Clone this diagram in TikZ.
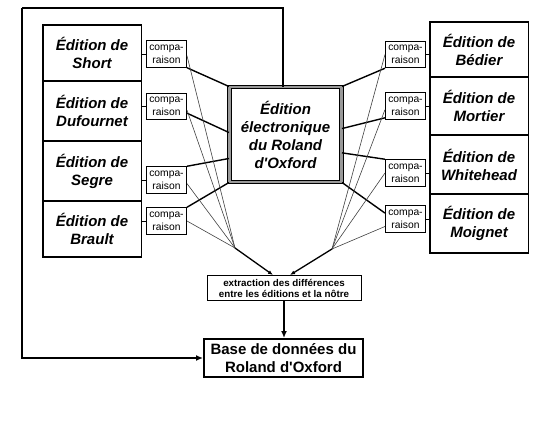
\documentclass[tikz,border=0pt]{standalone}
\usepackage{fontspec}
\setmainfont{Liberation Sans}
\usetikzlibrary{arrows.meta}
\tikzset{
  edbox/.style={draw,line width=1.5pt,minimum width=98.5pt,inner sep=0pt,align=center,
    font=\fontsize{15}{18}\selectfont\bfseries\itshape},
  cmp/.style={draw,line width=1pt,minimum width=40pt,minimum height=26.5pt,inner sep=0pt,align=center,
    font=\fontsize{10.3}{12.8}\selectfont},
  thk/.style={line width=1.4pt},
  thn/.style={line width=0.6pt,black!75},
  arr/.style={line width=1.5pt,-{Latex[length=7pt,width=6pt]}},
}
\begin{document}
\begin{tikzpicture}[x=1pt,y=-1pt]
\useasboundingbox (0,0) rectangle (550,423);
% left editions
\node[edbox,minimum height=56pt] (e1) at (92,53) {Édition de\\Short};
\node[edbox,minimum height=60pt] (e2) at (92,111) {Édition de\\Dufournet};
\node[edbox,minimum height=60pt] (e3) at (92,171) {Édition de\\Segre};
\node[edbox,minimum height=56pt] (e4) at (92,229) {Édition de\\Brault};
% right editions
\node[edbox,minimum height=55pt] (f1) at (479,49.5) {Édition de\\Bédier};
\node[edbox,minimum height=58pt] (f2) at (479,106) {Édition de\\Mortier};
\node[edbox,minimum height=59pt] (f3) at (479,164.5) {Édition de\\Whitehead};
\node[edbox,minimum height=59pt] (f4) at (479,223.5) {Édition de\\Moignet};
% comparison boxes
\node[cmp] (c1) at (166.5,54) {compa-\\raison};
\node[cmp] (c2) at (166.5,106.5) {compa-\\raison};
\node[cmp] (c3) at (166.5,180) {compa-\\raison};
\node[cmp] (c4) at (166.5,221) {compa-\\raison};
\node[cmp] (d1) at (405.5,54.5) {compa-\\raison};
\node[cmp] (d2) at (405.5,106) {compa-\\raison};
\node[cmp] (d3) at (405.5,173) {compa-\\raison};
\node[cmp] (d4) at (405.5,219) {compa-\\raison};
% central box
\node[draw,line width=1pt,double=black!40,double distance=2.5pt,minimum width=112pt,minimum height=95pt,
  inner sep=0pt,align=center,font=\fontsize{15}{18}\selectfont\bfseries\itshape] (cen) at (285.5,134.5)
  {Édition\\électronique\\du Roland\\d\textquotesingle Oxford};
% extraction and base
\node[draw,line width=1pt,minimum width=154pt,minimum height=25pt,inner sep=0pt,align=center,
  font=\fontsize{9.8}{11}\selectfont\bfseries] (ex) at (284,288)
  {extraction des différences\\entre les éditions et la nôtre};
\node[draw,line width=2pt,minimum width=159pt,minimum height=38pt,inner sep=0pt,align=center,
  font=\fontsize{15}{18.5}\selectfont\bfseries] (base) at (283.5,358)
  {Base de données du\\Roland d\textquotesingle Oxford};
% short ties
\foreach \c/\e in {c1/e1,c2/e2,c3/e3,c4/e4}{\draw[line width=1pt] (\c.west) -- (\c.west -| \e.east);}
\foreach \c/\e in {d1/f1,d2/f2,d3/f3,d4/f4}{\draw[line width=1pt] (\c.east) -- (\c.east -| \e.west);}
% thick lines to central
\draw[thk] (c1.south east) -- (cen.north west);
\draw[thk] (c2.-18) -- (cen.178);
\draw[thk] (c3.north east) -- (cen.203);
\draw[thk] (c4.north east) -- (cen.south west);
\draw[thk] (cen.north east) -- (d1.south west);
\draw[thk] (cen.6) -- (d2.210);
\draw[thk] (cen.-18) -- (d3.north west);
\draw[thk] (cen.south east) -- (d4.164);
% convergence
\coordinate (cl) at (235,248);
\coordinate (cr) at (332,249);
\coordinate (tl) at (273,275);
\coordinate (tr) at (290,275);
\foreach \c/\a in {c1/-5,c2/-10,c3/-10,c4/0}{\draw[thn] (\c.\a) -- (cl);}
\foreach \c/\a in {d1/180,d2/190,d3/180,d4/200}{\draw[thn] (\c.\a) -- (cr);}
\draw[line width=1.3pt,-{Latex[length=5pt,width=4pt]}] (cl) -- (tl);
\draw[line width=1.3pt,-{Latex[length=5pt,width=4pt]}] (cr) -- (tr);
\draw[arr] (ex.south) -- (ex.south |- base.north);
\coordinate (corner) at (22,8);
\draw[line width=1.5pt] (cen.north -| 283,0) |- (corner);
\draw[arr] (corner) |- (base.west);
\end{tikzpicture}
\end{document}
